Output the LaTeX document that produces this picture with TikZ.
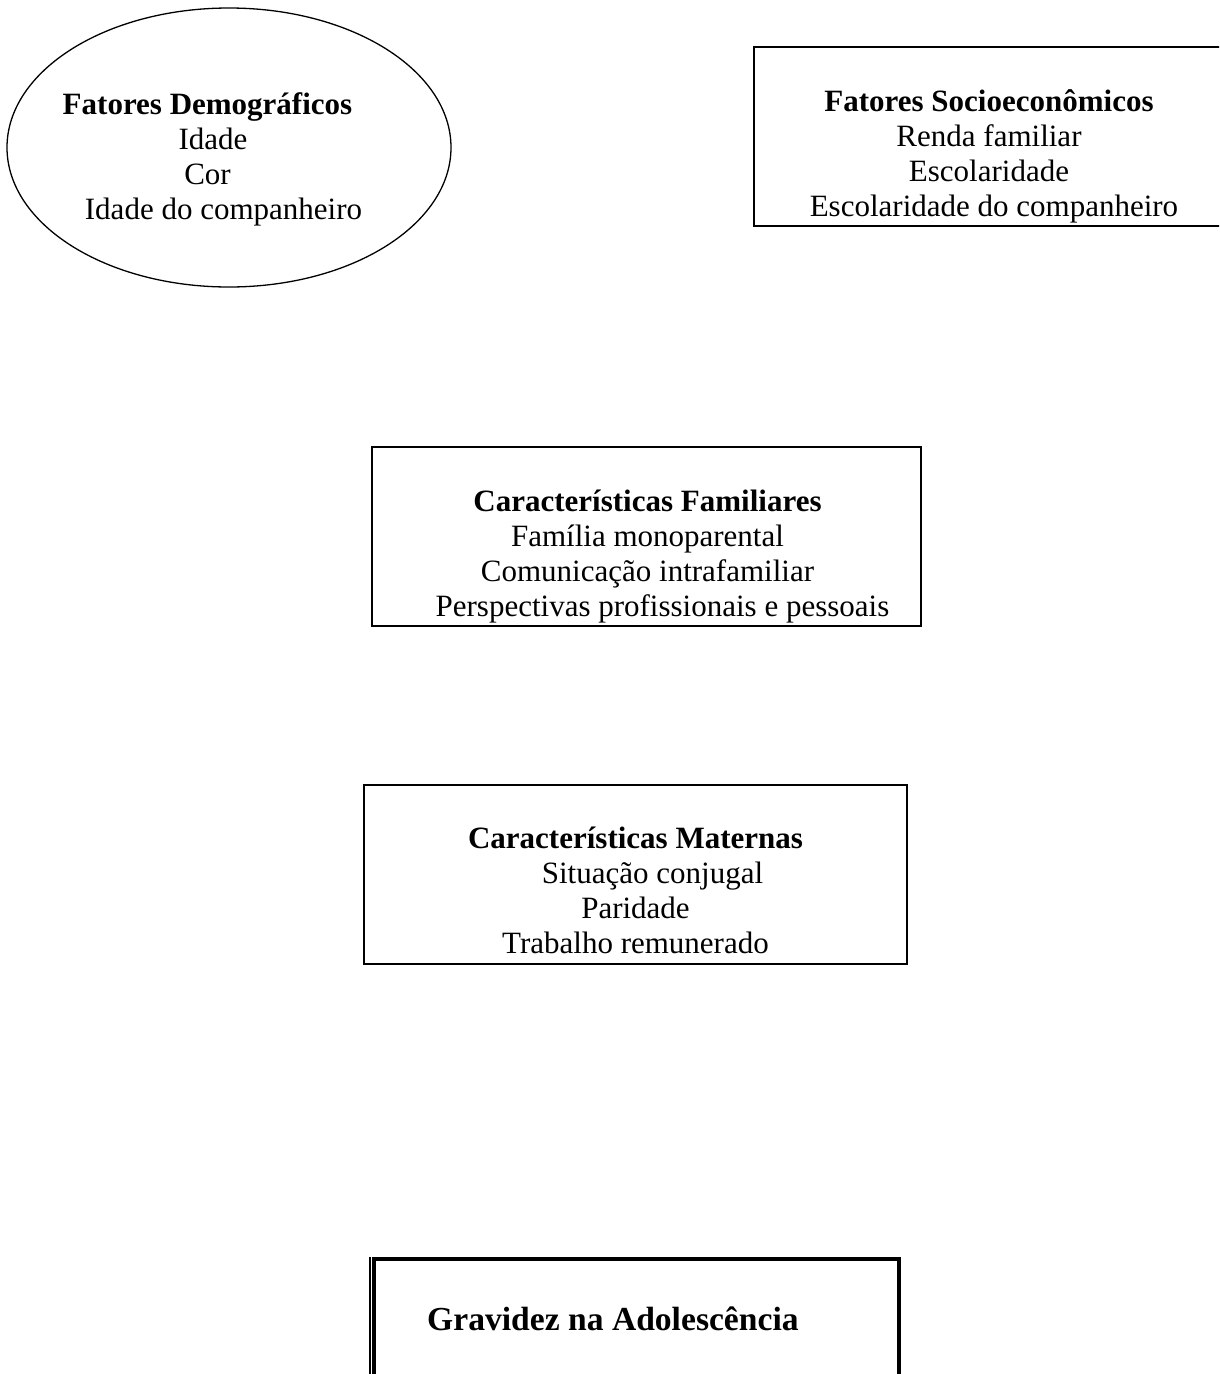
\documentclass[tikz,border=0pt]{standalone}
\usepackage{fontspec}
\setmainfont{Liberation Serif}
\usepackage{tikz}
\usetikzlibrary{shapes.geometric, positioning}

\begin{document}
\begin{tikzpicture}[
    x=1pt, y=-1pt,
    fatorbox/.style={draw, line width=1.3pt, inner sep=0pt, minimum height=179pt},
    fatortxt/.style={inner sep=0pt, anchor=north, align=center, font=\fontsize{31}{35}\selectfont}
]

\clip (0,0) rectangle (1219,1374);

% fatores de cima
\node[fatorbox, ellipse, minimum width=444pt, minimum height=279pt] (demog) at (229,147.5) {};
\node[fatortxt] (demogtxt) at (207.5,89.5) {\strut\textbf{Fatores Demográficos}\\ \hspace*{11pt}Idade\\ Cor\\ \hspace*{32pt}Idade do companheiro};

\node[fatorbox, minimum width=506pt] (socio) at (1007,136.5) {};
\node[fatortxt] (sociotxt) at (989,86.5) {\strut\textbf{Fatores Socioeconômicos}\\ Renda familiar\\ Escolaridade\\ \hspace*{10pt}Escolaridade do companheiro};

% caracteristicas
\node[fatorbox, minimum width=549pt] (famil) at (646.5,536.5) {};
\node[fatortxt] (familtxt) at (647.5,486.5) {\strut\textbf{Características Familiares}\\ Família monoparental\\ Comunicação intrafamiliar\\ \hspace*{30pt}Perspectivas profissionais e pessoais};

\node[fatorbox, minimum width=543pt] (matern) at (635.5,874.5) {};
\node[fatortxt] (materntxt) at (635.5,823.5) {\strut\textbf{Características Maternas}\\ \hspace*{34pt}Situação conjugal\\ Paridade\hspace*{13pt}\\ Trabalho remunerado};

% desfecho
\node[inner sep=0pt, minimum width=525pt, minimum height=240pt, anchor=north west] (gravid) at (374,1258.5) {};
\draw[line width=4pt] (gravid.south west) -- (gravid.north west) -- (gravid.north east) -- (gravid.south east);
\draw[line width=1.3pt] ([xshift=-4pt]gravid.south west) -- ([xshift=-4pt,yshift=2pt]gravid.north west);
\node[inner sep=0pt, anchor=base west, font=\fontsize{33.6}{38}\selectfont\bfseries] (gravidtxt) at (427,1330) {Gravidez na Adolescência};

\end{tikzpicture}
\end{document}
